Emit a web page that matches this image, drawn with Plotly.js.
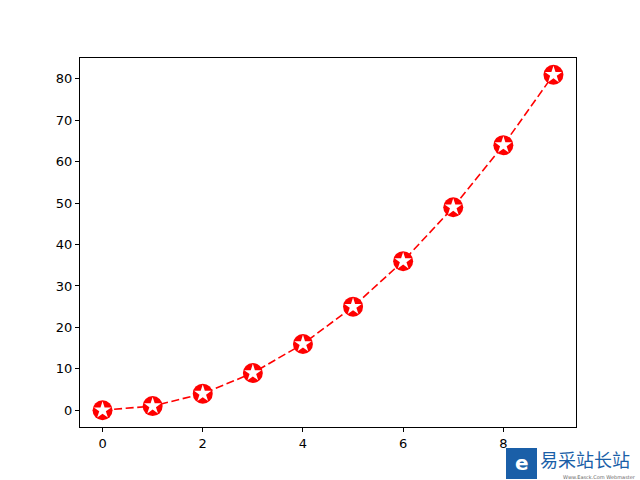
<!DOCTYPE html>
<html><head><meta charset="utf-8">
<script src="https://cdn.plot.ly/plotly-3.0.1.min.js"></script>
<style>body{margin:0}</style></head>
<body><div id="chart" style="width:640px;height:480px"></div>
<script>
const xValues = [0,1,2,3,4,5,6,7,8,9];
const yValues = [0,1,4,9,16,25,36,49,64,81];
const xTicks = [0,2,4,6,8];
const yTicks = [0,10,20,30,40,50,60,70,80];

const traces = [
  {x:xValues, y:yValues, mode:'lines', line:{color:'red', width:1.6, dash:'8px,3.6px'}, hoverinfo:'skip'},
  {x:xValues, y:yValues, mode:'markers', marker:{symbol:'circle', size:20, color:'red', line:{width:0}}},
  {x:xValues, y:yValues, mode:'markers', marker:{symbol:'star', size:13, color:'white', line:{width:0}}}
];
const px = v => (v-80)/496;
const py = v => (427-v)/369;
const layout = {
  width:640, height:480, showlegend:false,
  paper_bgcolor:'white', plot_bgcolor:'white',
  margin:{l:80, r:64, t:58, b:53},
  font:{family:'DejaVu Sans', size:13, color:'black'},
  xaxis:{range:[-0.45,9.45], tickvals:xTicks, ticks:'outside', ticklen:4, tickcolor:'black',
         showgrid:false, zeroline:false, showline:true, mirror:true, linecolor:'black', linewidth:1},
  yaxis:{range:[-4.05,85.05], tickvals:yTicks, ticks:'outside', ticklen:4, tickcolor:'black',
         showgrid:false, zeroline:false, showline:true, mirror:true, linecolor:'black', linewidth:1},
  shapes:[{type:'rect', xref:'paper', yref:'paper', x0:px(506), x1:px(537), y0:py(479), y1:py(448),
           fillcolor:'#1a5fa8', line:{width:0}, layer:'above'}],
  annotations:[
    {xref:'paper', yref:'paper', x:px(521.5), y:py(463), xanchor:'center', yanchor:'middle', text:'<b>e</b>', showarrow:false,
     font:{family:'DejaVu Sans', size:20, color:'white'}},
    {xref:'paper', yref:'paper', x:px(539), y:py(459), xanchor:'left', yanchor:'middle', text:'易采站长站', showarrow:false,
     font:{family:'Noto Sans CJK SC', size:18, color:'#1a5fa8'}, borderpad:0},
    {xref:'paper', yref:'paper', x:px(562), y:py(476.5), xanchor:'left', yanchor:'middle', text:'Www.Easck.Com Webmaster', showarrow:false,
     font:{family:'DejaVu Sans', size:5, color:'#666'}, borderpad:0}
  ]
};
Plotly.newPlot('chart', traces, layout, {displayModeBar:false, staticPlot:true});
</script></body></html>
